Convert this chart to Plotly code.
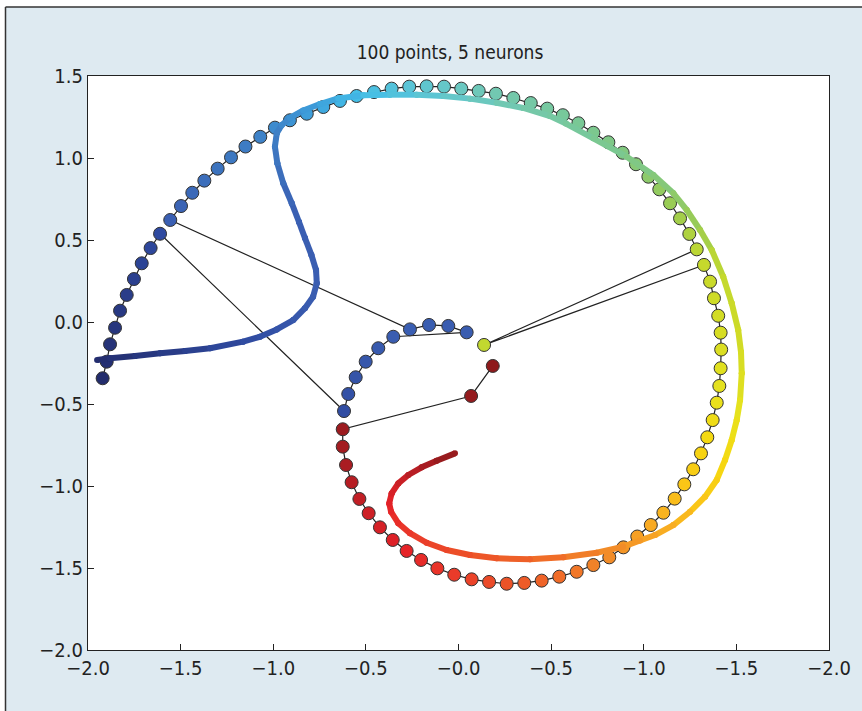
import plotly.graph_objects as go
from plotly.colors import sample_colorscale

# ---- sample points, listed in the order they are joined ----
point_x = [
    -1.921, -1.899, -1.881, -1.854, -1.827, -1.791, -1.752, -1.710, -1.662, -1.611,
    -0.618, -0.595, -0.555, -0.501, -0.433, -0.352, 0.044, -0.055, -0.159, -0.262,
    -1.556, -1.498, -1.437, -1.372, -1.300, -1.228, -1.150, -1.070, -0.991, -0.910,
    -0.819, -0.730, -0.640, -0.550, -0.456, -0.361, -0.266, -0.172, -0.078, 0.015,
    0.109, 0.202, 0.296, 0.390, 0.479, 0.563, 0.647, 0.728, 0.809, 0.886,
    0.958, 1.025, 1.084, 1.142, 1.196, 1.246, 1.286, 0.138, 1.325, 1.358,
    1.379, 1.402, 1.415, 1.418, 1.415, 1.408, 1.394, 1.372, 1.343, 1.309,
    1.267, 1.219, 1.167, 1.106, 1.038, 0.965, 0.890, 0.814, 0.728, 0.638,
    0.544, 0.449, 0.355, 0.260, 0.165, 0.071, -0.023, -0.114, -0.202, -0.280,
    -0.355, -0.424, -0.485, -0.535, -0.577, -0.607, -0.625, -0.625, 0.068, 0.185,
]
point_y = [
    -0.343, -0.242, -0.136, -0.035, 0.069, 0.165, 0.262, 0.358, 0.451, 0.538,
    -0.543, -0.439, -0.337, -0.242, -0.160, -0.090, -0.063, -0.024, -0.018, -0.045,
    0.622, 0.707, 0.788, 0.862, 0.935, 1.004, 1.070, 1.129, 1.185, 1.230,
    1.270, 1.311, 1.348, 1.378, 1.402, 1.423, 1.435, 1.437, 1.435, 1.423,
    1.409, 1.392, 1.366, 1.335, 1.301, 1.261, 1.212, 1.154, 1.096, 1.032,
    0.962, 0.886, 0.809, 0.724, 0.632, 0.537, 0.443, -0.140, 0.348, 0.246,
    0.145, 0.038, -0.065, -0.168, -0.282, -0.390, -0.492, -0.598, -0.703, -0.801,
    -0.898, -0.990, -1.077, -1.163, -1.238, -1.308, -1.374, -1.435, -1.482, -1.523,
    -1.553, -1.577, -1.591, -1.596, -1.585, -1.569, -1.541, -1.502, -1.451, -1.396,
    -1.329, -1.252, -1.166, -1.079, -0.977, -0.872, -0.760, -0.654, -0.451, -0.268,
]
point_index = list(range(len(point_x)))

# ---- fitted curve (5 neurons), with its colour parameter ----
curve_x = [
    -1.951, -1.881, -1.746, -1.611, -1.476, -1.341, -1.163, -1.072, -0.981, -0.892,
    -0.829, -0.785, -0.765, -0.769, -0.794, -0.829, -0.861, -0.900, -0.946, -0.978,
    -0.991, -0.981, -0.954, -0.910, -0.838, -0.748, -0.650, -0.514, -0.370, -0.226,
    -0.082, 0.062, 0.206, 0.350, 0.494, 0.580, 0.728, 0.908, 1.052, 1.160,
    1.232, 1.304, 1.367, 1.429, 1.475, 1.510, 1.525, 1.529, 1.520, 1.502,
    1.475, 1.439, 1.394, 1.331, 1.250, 1.160, 1.061, 0.980, 0.890, 0.746,
    0.566, 0.386, 0.206, 0.062, -0.064, -0.172, -0.262, -0.325, -0.364, -0.374,
    -0.361, -0.325, -0.271, -0.199, -0.118, -0.019,
]
curve_y = [
    -0.232, -0.221, -0.207, -0.191, -0.177, -0.160, -0.120, -0.090, -0.045, 0.012,
    0.084, 0.154, 0.236, 0.317, 0.409, 0.512, 0.610, 0.724, 0.846, 0.968,
    1.069, 1.151, 1.201, 1.244, 1.290, 1.329, 1.363, 1.382, 1.386, 1.386,
    1.378, 1.362, 1.337, 1.305, 1.256, 1.210, 1.120, 1.008, 0.896, 0.785,
    0.683, 0.561, 0.439, 0.276, 0.114, -0.049, -0.183, -0.313, -0.476, -0.598,
    -0.720, -0.841, -0.963, -1.065, -1.157, -1.238, -1.299, -1.332, -1.370, -1.407,
    -1.435, -1.447, -1.441, -1.421, -1.390, -1.346, -1.288, -1.227, -1.157, -1.106,
    -1.045, -0.984, -0.933, -0.886, -0.846, -0.801,
]
curve_t = [
    0.000, 0.010, 0.025, 0.040, 0.055, 0.070, 0.090, 0.100, 0.115, 0.130,
    0.140, 0.150, 0.160, 0.170, 0.180, 0.190, 0.200, 0.210, 0.225, 0.240,
    0.255, 0.265, 0.275, 0.285, 0.295, 0.305, 0.315, 0.330, 0.345, 0.360,
    0.375, 0.390, 0.405, 0.420, 0.435, 0.445, 0.460, 0.480, 0.495, 0.510,
    0.525, 0.540, 0.555, 0.575, 0.590, 0.605, 0.620, 0.635, 0.650, 0.665,
    0.675, 0.685, 0.700, 0.710, 0.725, 0.740, 0.750, 0.760, 0.770, 0.785,
    0.800, 0.815, 0.830, 0.840, 0.850, 0.860, 0.870, 0.880, 0.890, 0.900,
    0.910, 0.925, 0.940, 0.955, 0.970, 1.000,
]

# ---- axis labels ----
x_tick_vals = [-2.0, -1.5, -1.0, -0.5, 0.0, 0.5, 1.0, 1.5, 2.0]
x_tick_text = ["\u22122.0", "\u22121.5", "\u22121.0", "\u22120.5", "\u22120.0",
               "\u22120.5", "\u22121.0", "\u22121.5", "\u22122.0"]
y_tick_vals = [-2.0, -1.5, -1.0, -0.5, 0.0, 0.5, 1.0, 1.5]
y_tick_text = ["\u22122.0", "\u22121.5", "\u22121.0", "\u22120.5", "0.0", "0.5", "1.0", "1.5"]
title_text = "100 points, 5 neurons"

# jet-like palette as printed
palette = [
    [0.00, "#232c6c"], [0.09, "#2f4aa0"], [0.15, "#3a5db0"], [0.20, "#3a5eb2"],
    [0.27, "#3e80c6"], [0.30, "#3d9ad8"], [0.33, "#42bde8"], [0.36, "#58c4d8"],
    [0.39, "#68c8c4"], [0.42, "#74c8ac"], [0.46, "#78c898"], [0.50, "#84c87c"],
    [0.54, "#9ccc50"], [0.57, "#c0d830"], [0.62, "#d4dc24"], [0.66, "#e6e21e"],
    [0.69, "#f6d810"], [0.72, "#fac418"], [0.75, "#f8a824"], [0.78, "#f28a28"],
    [0.81, "#f06a28"], [0.84, "#ec5228"], [0.87, "#ea3a2a"], [0.90, "#e52228"],
    [0.93, "#cc2026"], [0.96, "#aa1c22"], [1.00, "#8e1a1c"],
]

FONT = "Liberation Sans Narrow, DejaVu Sans Condensed, Arial Narrow, sans-serif"
INK = "#222222"
BG = "#deeaf1"
CURVE_W = 6

fig = go.Figure()

# samples joined in order, drawn as filled circles
fig.add_trace(go.Scatter(
    x=point_x, y=point_y, mode="lines+markers",
    line=dict(color=INK, width=1.2),
    marker=dict(size=13, color=point_index, colorscale=palette, cmin=0,
                cmax=len(point_x) - 1, line=dict(color="#333333", width=1)),
    hoverinfo="skip", showlegend=False,
))

# fitted curve as short coloured pieces (gradient), round joints
seg_colors = sample_colorscale(palette, [(curve_t[i] + curve_t[i + 1]) / 2
                                         for i in range(len(curve_t) - 1)],
                               colortype="rgb")
for i in range(len(curve_x) - 1):
    fig.add_trace(go.Scatter(
        x=[curve_x[i], curve_x[i + 1]], y=[curve_y[i], curve_y[i + 1]],
        mode="lines+markers",
        line=dict(color=seg_colors[i], width=CURVE_W),
        marker=dict(size=CURVE_W, color=seg_colors[i], line=dict(width=0)),
        hoverinfo="skip", showlegend=False,
    ))

# plot-area geometry in pixels, for the frame around the figure
L, R, T, B = 88, 829, 76, 650
W, H = 862, 711


def px_x(p):
    return (p - L) / (R - L)


def px_y(p):
    return (B - p) / (B - T)


shapes = [
    dict(type="rect", xref="paper", yref="paper", x0=px_x(-20), x1=px_x(W + 20),
         y0=px_y(7), y1=px_y(-20), fillcolor="white", line=dict(width=0), layer="below"),
    dict(type="rect", xref="paper", yref="paper", x0=px_x(-20), x1=px_x(5.5),
         y0=px_y(H + 20), y1=px_y(-20), fillcolor="white", line=dict(width=0), layer="below"),
    dict(type="line", xref="paper", yref="paper", x0=px_x(5.5), x1=px_x(W + 20),
         y0=px_y(7), y1=px_y(7), line=dict(color="#333333", width=1.5)),
    dict(type="line", xref="paper", yref="paper", x0=px_x(5.5), x1=px_x(5.5),
         y0=px_y(7), y1=px_y(H + 20), line=dict(color="#333333", width=1.5)),
]

axis_common = dict(
    showgrid=False, zeroline=False, showline=True, mirror=True,
    linecolor=INK, linewidth=1.2, ticks="inside", ticklen=6, tickwidth=1,
    tickcolor=INK, tickfont=dict(family=FONT, size=20, color=INK),
)

fig.update_layout(
    width=W, height=H,
    margin=dict(l=L, r=W - R, t=T, b=H - B),
    paper_bgcolor=BG, plot_bgcolor="white",
    title=dict(text=title_text, x=450 / W, xref="container", xanchor="center",
               y=1 - 52 / H, yref="container", yanchor="middle",
               font=dict(family=FONT, size=19, color=INK)),
    xaxis=dict(range=[-2, 2], tickvals=x_tick_vals, ticktext=x_tick_text, **axis_common),
    yaxis=dict(range=[-2, 1.5], tickvals=y_tick_vals, ticktext=y_tick_text, **axis_common),
    shapes=shapes,
    showlegend=False,
)

fig.write_html("out.html")
